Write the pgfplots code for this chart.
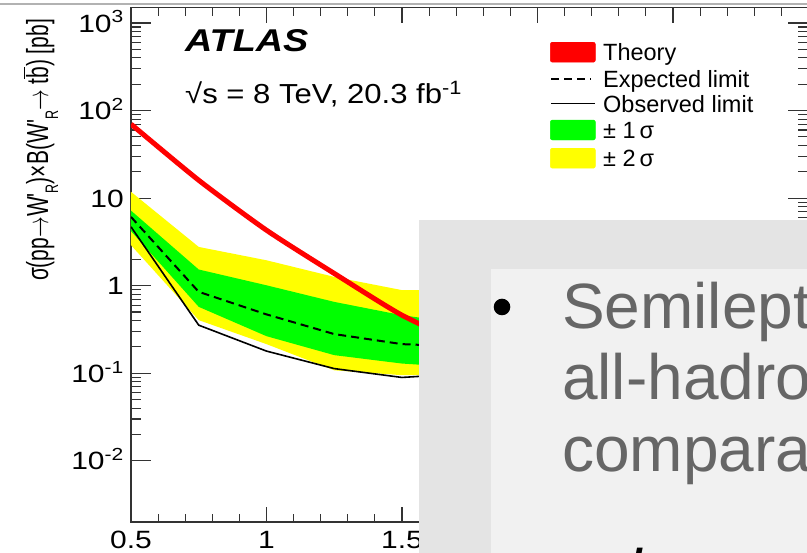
\documentclass[border=0pt]{standalone}
\usepackage{pgfplots}
\pgfplotsset{compat=1.18}
\usepackage{fontspec}
\setmainfont{Liberation Sans}
\newfontfamily\hvS[FakeStretch=1.2]{Liberation Sans}
\newfontfamily\hvT[FakeStretch=1.13]{Liberation Sans}
\definecolor{boxA}{HTML}{E4E4E4}
\definecolor{boxB}{HTML}{F1F1F1}
\definecolor{slidetext}{HTML}{666666}
\definecolor{frame}{HTML}{333333}
\definecolor{rred}{RGB}{255,0,0}
\definecolor{rgreen}{RGB}{0,255,0}
\definecolor{ryellow}{RGB}{255,255,0}
\newcommand{\subR}{\raisebox{-7pt}{\fontsize{12.5}{13}\selectfont R}}
\begin{document}
\begin{tikzpicture}[x=1pt,y=1pt]
\useasboundingbox (0,0) rectangle (807,553);
\begin{axis}[
  at={(131pt,31pt)}, anchor=south west,
  scale only axis, width=677.5pt, height=514.4pt,
  xmin=0.5, xmax=3, ymode=log, ymin=0.002, ymax=1500,
  xtick={0.5,1,1.5,2,2.5,3}, xticklabels={0.5,1,1.5,2,2.5,3},
  minor x tick num=4,
  ytick={0.01,0.1,1,10,100,1000},
  yticklabels={10\textsuperscript{-2},10\textsuperscript{-1},1,10,10\textsuperscript{2},10\textsuperscript{3}},
  /pgf/number format/assume math mode=true,
  tick align=inside,
  axis line style={frame, line width=1.1pt},
  every tick/.style={frame, line width=1.1pt},
  xtick style={/pgfplots/major tick length=15pt,/pgfplots/minor tick length=8pt},
  ytick style={/pgfplots/major tick length=20pt,/pgfplots/minor tick length=10pt},
  xticklabel style={font=\hvS\fontsize{25}{26}\selectfont, anchor=north, inner sep=0pt, text height=18pt, text depth=0pt, yshift=-8pt},
  yticklabel style={font=\hvS\fontsize{25}{26}\selectfont, anchor=east, inner sep=0pt, text height=18pt, text depth=0pt, xshift=-7pt},
  legend cell align=left,
  legend style={at={(axis description cs:0.6184,0.9335)}, anchor=north west, draw=none, fill=none, inner sep=0pt, row sep=7.8pt,
    nodes={inner sep=0pt, text height=17pt, text depth=0pt, font=\fontsize{23.5}{26}\selectfont},
    /tikz/every odd column/.append style={column sep=7pt}},
]
% +-2 sigma band
\addplot[fill=ryellow, draw=none, forget plot] coordinates {
  (0.5,11.8) (0.75,2.77) (1.0,1.95) (1.25,1.26) (1.5,0.89) (1.75,0.88)
  (1.75,0.095) (1.5,0.095) (1.25,0.108) (1.0,0.215) (0.75,0.404) (0.5,2.9)} -- cycle;
% +-1 sigma band
\addplot[fill=rgreen, draw=none, forget plot] coordinates {
  (0.5,7.2) (0.75,1.53) (1.0,1.01) (1.25,0.653) (1.5,0.46) (1.75,0.36)
  (1.75,0.115) (1.5,0.129) (1.25,0.161) (1.0,0.265) (0.75,0.573) (0.5,4.2)} -- cycle;
% expected
\addplot[black, line width=2pt, dash pattern=on 8pt off 5pt, forget plot] coordinates {
  (0.5,6.1) (0.75,0.85) (1.0,0.47) (1.25,0.28) (1.5,0.215) (1.75,0.2)};
% observed
\addplot[black, line width=1.6pt, forget plot] coordinates {
  (0.5,4.7) (0.75,0.354) (1.0,0.179) (1.25,0.113) (1.5,0.0895) (1.75,0.1)};
% theory
\addplot[rred, line width=5pt, smooth, tension=0.4, forget plot] coordinates {
  (0.5,70) (0.75,16) (1.0,4.3) (1.25,1.38) (1.5,0.46) (1.75,0.2)};

\addlegendimage{legend image code/.code={\fill[rred,rounded corners=2pt] (0pt,-10pt) rectangle (45pt,10pt);}}
\addlegendentry{Theory}
\addlegendimage{legend image code/.code={\draw[black,line width=1.8pt,dash pattern=on 8pt off 5pt] (1pt,0pt) -- (41pt,0pt);}}
\addlegendentry{Expected limit}
\addlegendimage{legend image code/.code={\draw[black,line width=1.6pt] (1pt,0pt) -- (45pt,0pt);}}
\addlegendentry{Observed limit}
\addlegendimage{legend image code/.code={\fill[rgreen,rounded corners=2pt] (0pt,-10pt) rectangle (45pt,10pt);}}
\addlegendentry{± 1\,σ}
\addlegendimage{legend image code/.code={\fill[ryellow,rounded corners=2pt] (0pt,-10pt) rectangle (45pt,10pt);}}
\addlegendentry{± 2\,σ}
\end{axis}
% annotations
\node[anchor=base west, inner sep=0pt] at (185,501) {\hvS\fontsize{31.5}{32}\selectfont\bfseries\itshape ATLAS};
\node[anchor=base west, inner sep=0pt] at (185,449) {\hvT\fontsize{27.5}{30}\selectfont √s = 8 TeV, 20.3 fb\textsuperscript{-1}};
\node[rotate=90, anchor=base, inner sep=0pt] at (48,403) {\scalebox{1}[1.45]{\fontsize{21}{24}\selectfont σ(pp$\rightarrow$W\textquotesingle\subR)×B(W\textquotesingle\subR$\rightarrow$ t$\overline{\mbox{b}}$) [pb]}};
% slide overlay
\draw[black!30, line width=1.5pt] (0,549) -- (807,549);
\fill[boxA] (419.3,-2) rectangle (812,333);
\fill[boxB] (490.7,-2) rectangle (812,284);
\fill[black] (502,246) circle (8.3);
\node[anchor=base west, inner sep=0pt, text=slidetext] at (562,224.7) {\fontsize{64}{72}\selectfont Semileptonic and};
\node[anchor=base west, inner sep=0pt, text=slidetext] at (562,153) {\fontsize{64}{72}\selectfont all-hadronic};
\node[anchor=base west, inner sep=0pt, text=slidetext] at (562,81.3) {\fontsize{64}{72}\selectfont comparable};
\node[anchor=base west, inner sep=0pt] at (627,-41.7) {\fontsize{64}{72}\selectfont\itshape l};
\end{tikzpicture}
\end{document}
